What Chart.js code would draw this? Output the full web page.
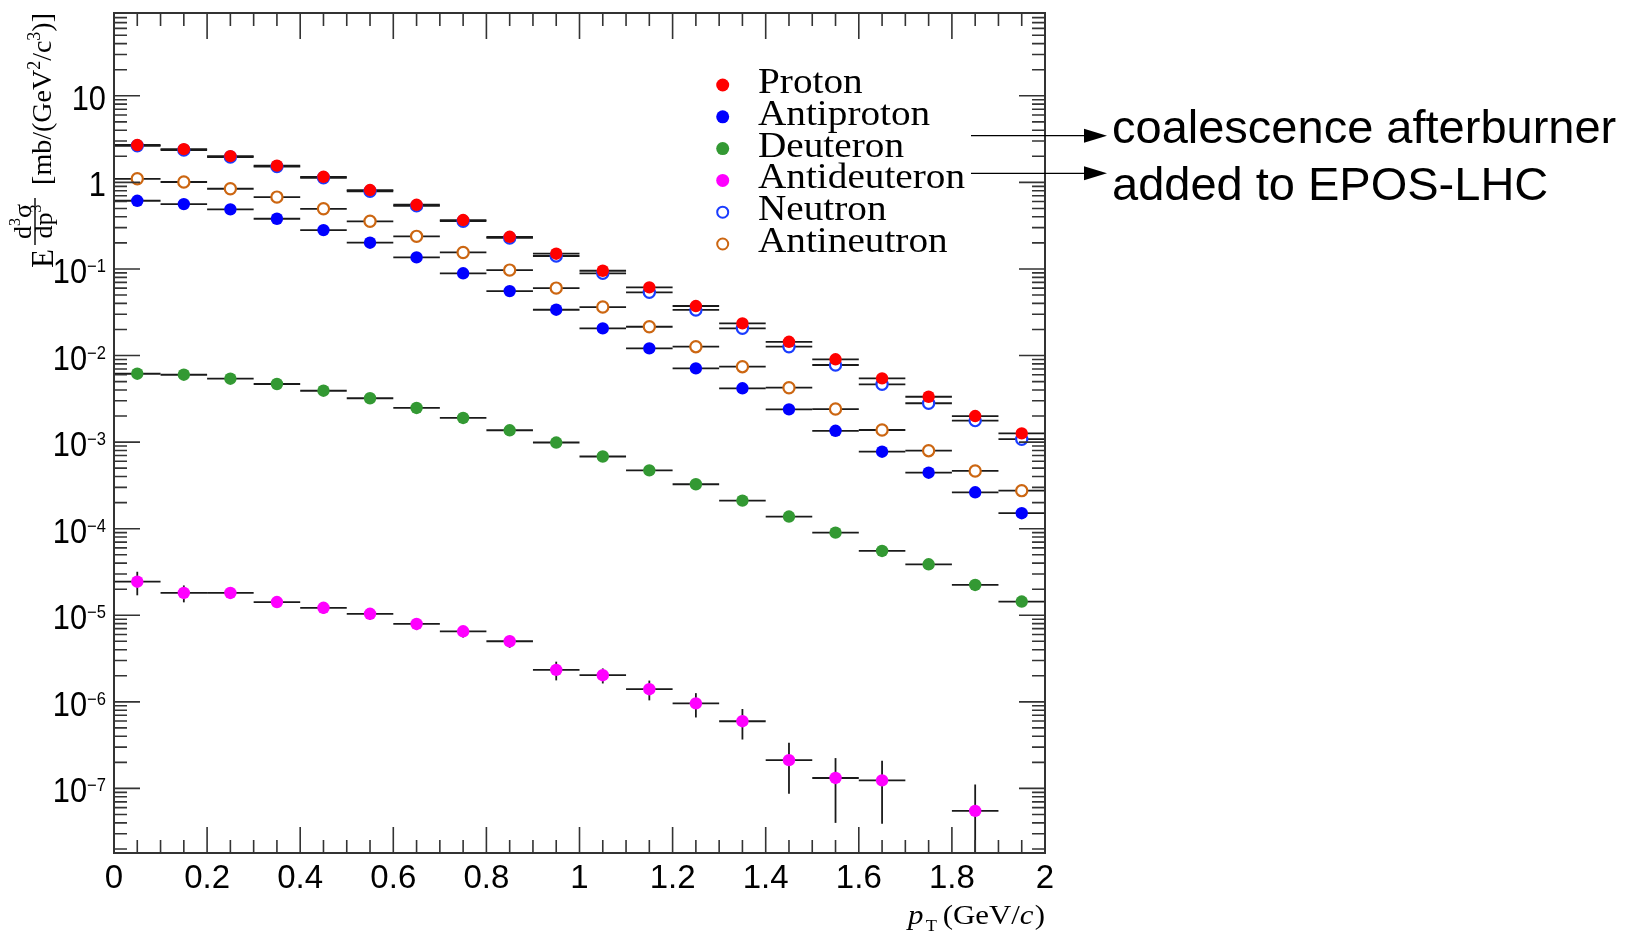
<!DOCTYPE html>
<html>
<head>
<meta charset="utf-8">
<script src="https://cdn.jsdelivr.net/npm/chart.js@4.4.0/dist/chart.umd.min.js"></script>
<style>
  html, body { margin: 0; padding: 0; background: #fff; }
  #wrap { width: 1629px; height: 936px; position: relative; }
</style>
</head>
<body>
<div id="wrap"><canvas id="spectraChart"></canvas></div>
<script>
// bin centres (pT, GeV/c), bins are 0.1 wide
const ptCenters = [0.05, 0.15, 0.25, 0.35, 0.45, 0.55, 0.65, 0.75, 0.85, 0.95,
                   1.05, 1.15, 1.25, 1.35, 1.45, 1.55, 1.65, 1.75, 1.85, 1.95];
const binHalfWidth = 0.05;

const proton = [2.70, 2.42, 2.01, 1.56, 1.16, 0.815, 0.551, 0.367, 0.235, 0.150,
                0.0953, 0.0613, 0.0373, 0.0235, 0.0144, 0.00904, 0.00545, 0.00334, 0.00200, 0.00126];
const antiproton = [0.613, 0.561, 0.488, 0.380, 0.281, 0.201, 0.136, 0.089, 0.0555, 0.0338,
                    0.0206, 0.0121, 0.00711, 0.00418, 0.00239, 0.00135, 0.000775, 0.000443, 0.000263, 0.000151];
const deuteron = [0.00616, 0.00600, 0.00540, 0.00469, 0.00392, 0.00321, 0.00248, 0.00190, 0.00137, 0.000989,
                  0.000682, 0.000472, 0.000326, 0.000211, 0.000138, 0.0000900, 0.0000553, 0.0000388, 0.0000224, 0.0000144];
const antideuteron = [2.44e-5, 1.81e-5, 1.81e-5, 1.42e-5, 1.22e-5, 1.04e-5, 7.94e-6, 6.53e-6, 5.01e-6, 2.34e-6,
                      2.03e-6, 1.40e-6, 9.6e-7, 5.97e-7, 2.12e-7, 1.32e-7, 1.24e-7, null, 5.5e-8, null];
const antideuteronErr = [7.4e-6, 4.0e-6, 2.5e-6, 2.0e-6, 1.8e-6, 1.5e-6, 1.2e-6, 1.0e-6, 8e-7, 5.7e-7,
                         4.0e-7, 3.6e-7, 3.0e-7, 2.3e-7, 1.25e-7, 9.2e-8, 8.5e-8, null, 5.6e-8, null];
const neutron = [2.64, 2.36, 1.96, 1.52, 1.13, 0.79, 0.535, 0.356, 0.228, 0.141,
                 0.089, 0.0537, 0.0336, 0.0206, 0.01264, 0.00777, 0.00465, 0.00281, 0.00177, 0.00108];
const antineutron = [1.10, 1.01, 0.844, 0.676, 0.495, 0.355, 0.238, 0.155, 0.097, 0.0601,
                     0.0363, 0.0215, 0.01265, 0.00743, 0.00425, 0.00241, 0.00138, 0.000796, 0.000464, 0.000275];

const xTickValues = [0, 0.2, 0.4, 0.6, 0.8, 1, 1.2, 1.4, 1.6, 1.8, 2];
const xTickLabels = ['0', '0.2', '0.4', '0.6', '0.8', '1', '1.2', '1.4', '1.6', '1.8', '2'];
const yTickExponents = [1, 0, -1, -2, -3, -4, -5, -6, -7];

const noteLines = ['coalescence afterburner', 'added to EPOS-LHC'];

function points(values) {
    return ptCenters.map((x, i) => ({ x: x, y: values[i] }));
}

function filled(label, values, color, order) {
    return {
        label: label, data: points(values), order: order,
        pointRadius: 6.2, pointBackgroundColor: color, pointBorderColor: color, pointBorderWidth: 0,
        open: false
    };
}

function hollow(label, values, color, order) {
    return {
        label: label, data: points(values), order: order,
        pointRadius: 5.6, pointBackgroundColor: '#ffffff', pointBorderColor: color, pointBorderWidth: 2.2,
        open: true
    };
}

const datasets = [
    filled('Proton', proton, '#ff0000', 0),
    filled('Antiproton', antiproton, '#0000ff', 3),
    filled('Deuteron', deuteron, '#339933', 3),
    Object.assign(filled('Antideuteron', antideuteron, '#ff00ff', 3), { errY: antideuteronErr }),
    hollow('Neutron', neutron, '#1a3cff', 1),
    hollow('Antineutron', antineutron, '#cc6611', 2)
];

// draw a run of text pieces (ROOT-like latex) along the current baseline
function drawPieces(ctx, pieces, x, y) {
    let cx = x;
    pieces.forEach(p => {
        ctx.font = p.font;
        ctx.fillText(p.t, cx, y + (p.dy || 0));
        cx += ctx.measureText(p.t).width + (p.gap || 0);
    });
    return cx;
}

function piecesWidth(ctx, pieces) {
    let w = 0;
    pieces.forEach(p => { ctx.font = p.font; w += ctx.measureText(p.t).width + (p.gap || 0); });
    return w;
}

const rootStyle = {
    id: 'rootStyle',
    beforeDatasetsDraw(chart) {
        const ctx = chart.ctx, xs = chart.scales.x, ys = chart.scales.y, a = chart.chartArea;
        ctx.save();
        ctx.beginPath();
        ctx.rect(a.left, a.top, a.right - a.left, a.bottom - a.top);
        ctx.clip();
        ctx.strokeStyle = '#1a1a1a';
        ctx.lineWidth = 1.8;
        chart.data.datasets.forEach(ds => {
            ds.data.forEach((p, i) => {
                if (p.y == null) return;
                const py = ys.getPixelForValue(p.y);
                ctx.beginPath();
                ctx.moveTo(xs.getPixelForValue(p.x - binHalfWidth), py);
                ctx.lineTo(xs.getPixelForValue(p.x + binHalfWidth), py);
                ctx.stroke();
                if (ds.errY && ds.errY[i]) {
                    const lo = p.y - ds.errY[i];
                    const top = ys.getPixelForValue(p.y + ds.errY[i]);
                    const bot = lo > 0 ? ys.getPixelForValue(lo) : a.bottom + 10;
                    const px = xs.getPixelForValue(p.x);
                    ctx.beginPath();
                    ctx.moveTo(px, top);
                    ctx.lineTo(px, bot);
                    ctx.stroke();
                }
            });
        });
        ctx.restore();
    },
    afterDraw(chart) {
        const ctx = chart.ctx, xs = chart.scales.x, ys = chart.scales.y, a = chart.chartArea;
        const sans = '"Liberation Sans", Arial, sans-serif';
        const serif = '"Liberation Serif", "Times New Roman", serif';
        ctx.save();

        // frame
        ctx.strokeStyle = '#333';
        ctx.lineWidth = 2;
        ctx.strokeRect(a.left, a.top, a.right - a.left, a.bottom - a.top);

        // x ticks, inward on bottom and top
        ctx.lineWidth = 1.6;
        for (let k = 0; k <= 40; k++) {
            const px = xs.getPixelForValue(k * 0.05);
            const len = k % 4 === 0 ? 26 : 13;
            ctx.beginPath();
            ctx.moveTo(px, a.bottom); ctx.lineTo(px, a.bottom - len);
            ctx.moveTo(px, a.top); ctx.lineTo(px, a.top + len);
            ctx.stroke();
        }
        // y ticks, log minors
        for (let d = -8; d <= 1; d++) {
            for (let m = 1; m <= 9; m++) {
                const v = m * Math.pow(10, d);
                if (v < ys.min || v > ys.max) continue;
                const py = ys.getPixelForValue(v);
                const len = m === 1 ? 26 : 13;
                ctx.beginPath();
                ctx.moveTo(a.left, py); ctx.lineTo(a.left + len, py);
                ctx.moveTo(a.right, py); ctx.lineTo(a.right - len, py);
                ctx.stroke();
            }
        }

        // x tick labels
        ctx.fillStyle = '#000';
        ctx.font = '33px ' + sans;
        ctx.textAlign = 'center';
        ctx.textBaseline = 'alphabetic';
        xTickValues.forEach((v, i) => {
            ctx.fillText(xTickLabels[i], xs.getPixelForValue(v), a.bottom + 35);
        });

        // y tick labels 10^n (slightly condensed like the ROOT font)
        ctx.textAlign = 'left';
        yTickExponents.forEach(e => {
            const py = ys.getPixelForValue(Math.pow(10, e));
            const base = e === 0 ? '1' : '10';
            const sup = (e === 0 || e === 1) ? '' : '\u2212' + Math.abs(e);
            ctx.font = '18px ' + sans;
            const sw = sup ? ctx.measureText(sup).width * 0.92 : 0;
            ctx.font = '35px ' + sans;
            const bw = ctx.measureText(base).width * 0.88;
            const right = a.left - 8;
            ctx.save();
            ctx.translate(right - sw - bw, py + 14);
            ctx.scale(0.88, 1);
            ctx.fillText(base, 0, 0);
            ctx.restore();
            if (sup) {
                ctx.save();
                ctx.translate(right - sw, py + 3);
                ctx.scale(0.92, 1);
                ctx.font = '18px ' + sans;
                ctx.fillText(sup, 0, 0);
                ctx.restore();
            }
        });

        // x title: p_T (GeV/c)
        const xTitle = [
            { t: 'p', font: 'italic 27px ' + serif, gap: 2 },
            { t: 'T', font: '16px ' + serif, dy: 7, gap: 5 },
            { t: '(GeV/', font: '27px ' + serif },
            { t: 'c', font: 'italic 27px ' + serif, gap: 1 },
            { t: ')', font: '27px ' + serif }
        ];
        const xw = piecesWidth(ctx, xTitle);
        const sx = 137 / xw;
        ctx.save();
        ctx.translate(a.right - 137, a.bottom + 71);
        ctx.scale(sx, 1);
        drawPieces(ctx, xTitle, 0, 0);
        ctx.restore();

        // y title: E d3sigma/dp3 [mb/(GeV^2/c^3)]
        ctx.save();
        ctx.translate(53, 268);
        ctx.rotate(-Math.PI / 2);
        ctx.font = '31px ' + serif;
        ctx.fillText('E', 0, 0);
        const num = [
            { t: 'd', font: '26px ' + serif },
            { t: '3', font: '16px ' + serif, dy: -11 },
            { t: '\u03c3', font: '26px ' + serif }
        ];
        const den = [
            { t: 'dp', font: '26px ' + serif },
            { t: '3', font: '16px ' + serif, dy: -11 }
        ];
        const fracL = 23, fracR = 70, fracC = (fracL + fracR) / 2;
        drawPieces(ctx, num, fracC - piecesWidth(ctx, num) / 2, -22);
        drawPieces(ctx, den, fracC - piecesWidth(ctx, den) / 2, -1);
        ctx.lineWidth = 1.4;
        ctx.strokeStyle = '#000';
        ctx.beginPath();
        ctx.moveTo(fracL, -18); ctx.lineTo(fracR, -18);
        ctx.stroke();
        const unit = [
            { t: '[mb/(GeV', font: '28px ' + serif },
            { t: '2', font: '18px ' + serif, dy: -11 },
            { t: '/c', font: '28px ' + serif },
            { t: '3', font: '18px ' + serif, dy: -11 },
            { t: ')]', font: '28px ' + serif }
        ];
        const uw = piecesWidth(ctx, unit);
        drawPieces(ctx, unit, 255 - uw, -2);
        ctx.restore();

        // legend
        const lx = 722.7, ly = 85, step = 31.8;
        chart.data.datasets.forEach((ds, i) => {
            const y = ly + i * step;
            ctx.beginPath();
            if (ds.open) {
                ctx.arc(lx, y, 5.5, 0, Math.PI * 2);
                ctx.fillStyle = '#fff';
                ctx.fill();
                ctx.lineWidth = 2;
                ctx.strokeStyle = ds.pointBorderColor;
                ctx.stroke();
            } else {
                ctx.arc(lx, y, 6.5, 0, Math.PI * 2);
                ctx.fillStyle = ds.pointBackgroundColor;
                ctx.fill();
            }
            ctx.save();
            ctx.translate(758, y + 8);
            ctx.scale(1.09, 1);
            ctx.fillStyle = '#000';
            ctx.font = '36px ' + serif;
            ctx.fillText(ds.label, 0, 0);
            ctx.restore();
        });

        // arrows + note (outside the frame)
        ctx.strokeStyle = '#000';
        ctx.fillStyle = '#000';
        ctx.lineWidth = 1.3;
        [135.7, 173.3].forEach(y => {
            ctx.beginPath();
            ctx.moveTo(971, y); ctx.lineTo(1090, y);
            ctx.stroke();
            ctx.beginPath();
            ctx.moveTo(1107, y); ctx.lineTo(1084, y - 7); ctx.lineTo(1084, y + 7);
            ctx.closePath();
            ctx.fill();
        });
        ctx.font = '47px ' + sans;
        ctx.fillText(noteLines[0], 1112, 143);
        ctx.fillText(noteLines[1], 1112, 200);

        ctx.restore();
    }
};

new Chart(document.getElementById('spectraChart').getContext('2d'), {
    type: 'scatter',
    data: { datasets: datasets },
    options: {
        responsive: true,
        maintainAspectRatio: false,
        animation: false,
        events: [],
        layout: { padding: { left: 114, top: 13, right: 584, bottom: 83 } },
        plugins: { legend: { display: false }, tooltip: { enabled: false } },
        scales: {
            x: { type: 'linear', min: 0, max: 2, display: false },
            y: { type: 'logarithmic', min: 1.795e-8, max: 90.4, display: false }
        }
    },
    plugins: [rootStyle]
});
</script>
</body>
</html>
